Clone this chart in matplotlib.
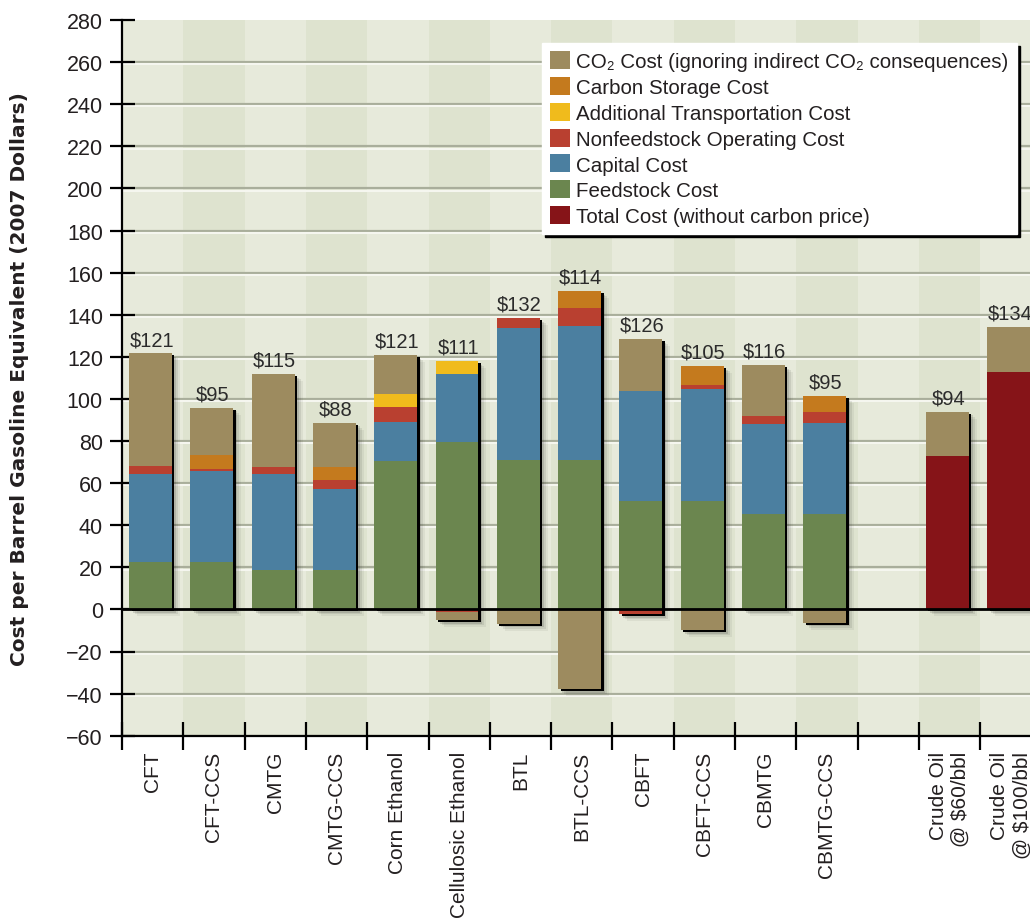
import matplotlib
matplotlib.use('Agg')
import matplotlib.pyplot as plt
import numpy as np
from matplotlib.transforms import ScaledTranslation
from matplotlib.patches import Patch

plt.rcParams['font.family'] = ['Liberation Sans', 'DejaVu Sans']

# ---------------- data ----------------
categories = ['CFT', 'CFT-CCS', 'CMTG', 'CMTG-CCS', 'Corn Ethanol', 'Cellulosic Ethanol',
              'BTL', 'BTL-CCS', 'CBFT', 'CBFT-CCS', 'CBMTG', 'CBMTG-CCS', '',
              'Crude Oil\n@ $60/bbl', 'Crude Oil\n@ $100/bbl']
total_no_carbon = [0, 0, 0, 0, 0, 0, 0, 0, 0, 0, 0, 0, 0, 73.1, 112.9]
feedstock = [22.5, 22.5, 18.7, 18.7, 70.7, 79.6, 71.0, 71.0, 51.7, 51.7, 45.4, 45.4, 0, 0, 0]
capital = [41.9, 43.4, 45.7, 38.7, 18.3, 32.2, 62.6, 63.6, 52.0, 53.0, 42.7, 43.2, 0, 0, 0]
nonfeedstock = [3.8, 0.8, 3.3, 4.3, 7.3, -1.0, 4.8, 8.5, -2.2, 1.9, 3.8, 5.2, 0, 0, 0]
transport = [0, 0, 0, 0, 6.0, 6.2, 0, 0, 0, 0, 0, 0, 0, 0, 0]
storage = [0, 6.8, 0, 6.1, 0, 0, 0, 8.1, 0, 9.0, 0, 7.6, 0, 0, 0]
co2 = [53.4, 22.2, 44.1, 20.8, 18.5, -4.2, -6.8, -37.9, 24.7, -10.0, 24.2, -6.3, 0, 20.8, 21.4]
value_labels = ['$121', '$95', '$115', '$88', '$121', '$111', '$132', '$114', '$126',
                '$105', '$116', '$95', '', '$94', '$134']

legend_names = ['CO\u2082 Cost (ignoring indirect CO\u2082 consequences)', 'Carbon Storage Cost',
                'Additional Transportation Cost', 'Nonfeedstock Operating Cost',
                'Capital Cost', 'Feedstock Cost', 'Total Cost (without carbon price)']

# colours
C_CO2 = '#9d8b5f'
C_STOR = '#c47a1e'
C_TRANS = '#f0bb1c'
C_NONF = '#b94030'
C_CAP = '#4b7fa0'
C_FEED = '#6b864f'
C_TOT = '#861418'
TXT = '#231f20'

W, H = 1030, 920
fig = plt.figure(figsize=(W / 100, H / 100), dpi=100)
fig.patch.set_facecolor('white')

n = len(categories)
slot = 61.3
ax_left, ax_bottom_px, ax_top_px = 122, 736.7, 21
ax = fig.add_axes([ax_left / W, (H - ax_bottom_px) / H, n * slot / W, (ax_bottom_px - ax_top_px) / H])
ax.set_xlim(0, n)
ax.set_ylim(-60, 280)
ax.set_facecolor('#e7eadb')

# alternating column shading
for i in range(1, n, 2):
    ax.axvspan(i, i + 1, color='#dee3cf', lw=0, zorder=0)

# gridlines (grey with white highlight beneath)
for yv in range(-60, 280, 20):
    if yv == 0:
        continue
    ax.axhline(yv, color='#a9ae9b', lw=1.6, zorder=1)
    ax.axhline(yv - 1.05, color='#f5f6ef', lw=1.5, zorder=1)

# stacked bars
x = np.arange(n) + 0.5 - 0.035
width = 0.70
stack = [(total_no_carbon, C_TOT), (feedstock, C_FEED), (capital, C_CAP),
         (nonfeedstock, C_NONF), (transport, C_TRANS), (storage, C_STOR), (co2, C_CO2)]
pos_bottom = np.zeros(n)
neg_bottom = np.zeros(n)
for vals, color in stack:
    v = np.array(vals, dtype=float)
    pos = np.where(v > 0, v, 0.0)
    neg = np.where(v < 0, v, 0.0)
    ax.bar(x, pos, width, bottom=pos_bottom, color=color, linewidth=0, zorder=4)
    ax.bar(x, neg, width, bottom=neg_bottom, color=color, linewidth=0, zorder=4)
    pos_bottom += pos
    neg_bottom += neg

# shadows behind each full bar
env_h = pos_bottom - neg_bottom
for dx, dy, col, a in [(8, -7, 'black', 0.05), (6, -5, 'black', 0.08),
                       (4, -3.5, 'black', 0.12), (2.5, -2, 'black', 1.0)]:
    bars = ax.bar(x, env_h, width, bottom=neg_bottom, color=col, alpha=a, linewidth=0, zorder=3)
    off = ScaledTranslation(dx / 100, dy / 100, fig.dpi_scale_trans)
    for p in bars:
        p.set_transform(ax.transData + off)

# value labels
for i, lbl in enumerate(value_labels):
    if lbl:
        ax.annotate(lbl, (x[i] + 0.02, pos_bottom[i]), xytext=(0, 3), textcoords='offset points',
                    ha='center', va='bottom', fontsize=14.5, color='#2b2b2b', zorder=6)

# zero line
ax.axhline(0, color='black', lw=2, zorder=5)

# spines
for s in ['top', 'right']:
    ax.spines[s].set_visible(False)
for s in ['left', 'bottom']:
    ax.spines[s].set_linewidth(1.6)
    ax.spines[s].set_color('black')
    ax.spines[s].set_zorder(6)

# y ticks
ax.set_yticks(range(-60, 281, 20))
ax.tick_params(axis='y', direction='inout', length=18, width=1.6, labelsize=15.5,
               pad=4.7, colors='black', labelcolor=TXT)

# x ticks
ax.set_xticks(np.arange(n) + 0.5)
ax.set_xticklabels(categories, rotation=90, fontsize=15, color=TXT)
for t in ax.get_xticklabels():
    t.set_multialignment('right')
ax.tick_params(axis='x', which='major', length=0, pad=11)
ax.set_xticks(np.arange(0, n + 1), minor=True)
ax.tick_params(axis='x', which='minor', direction='inout', length=20, width=1.6, colors='black')

# y label
fig.text(20 / W, 1 - (ax_top_px + ax_bottom_px) / 2 / H,
         'Cost per Barrel Gasoline Equivalent (2007 Dollars)', rotation=90,
         ha='center', va='center', fontsize=14.5, fontweight='bold', color=TXT,
         family=['DejaVu Sans'])

# legend
leg_colors = [C_CO2, C_STOR, C_TRANS, C_NONF, C_CAP, C_FEED, C_TOT]
handles = [Patch(facecolor=c, edgecolor='none') for c in leg_colors]
leg = fig.legend(handles, legend_names, loc='upper left', bbox_to_anchor=(542 / W, 1 - 44 / H),
                 frameon=True, fancybox=False, shadow={'color': 'black', 'alpha': 1},
                 fontsize=14.8, handlelength=0.97, handleheight=0.97, handletextpad=0.3,
                 labelspacing=0.28, borderpad=0.4, borderaxespad=0)
leg.get_frame().set_facecolor('white')
leg.get_frame().set_edgecolor('white')
leg.get_frame().set_alpha(1)
for t in leg.get_texts():
    t.set_color(TXT)

fig.savefig('out.png', dpi=100)
